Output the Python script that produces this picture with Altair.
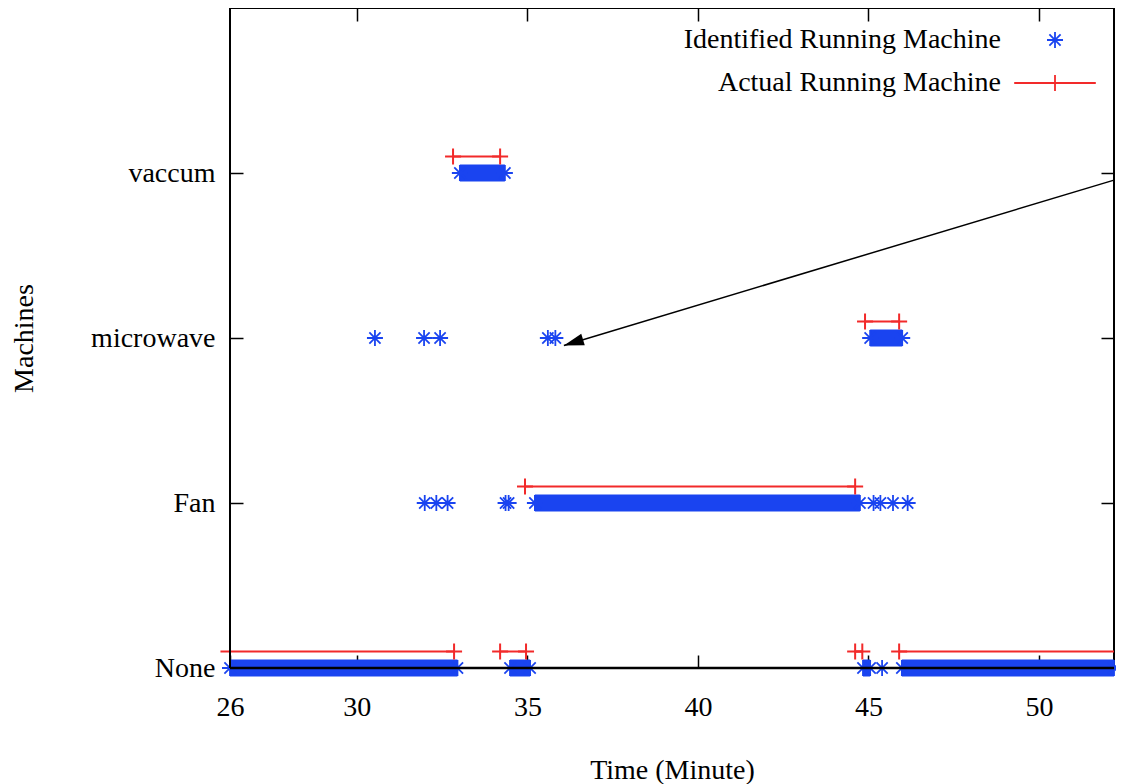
import altair as alt
import pandas as pd

# ---------------- data ----------------
LEVELS = ["None", "Fan", "microwave", "vaccum"]
SERIES = ["Identified Running Machine", "Actual Running Machine"]

# Identified (blue) isolated detections
ident_x = [45.40, 31.99, 32.33, 32.66, 34.36, 34.45, 45.15, 45.35, 45.72, 46.15,
           30.53, 31.97, 32.44, 35.60, 35.82]
ident_lvl = [0, 1, 1, 1, 1, 1, 1, 1, 1, 1, 2, 2, 2, 2, 2]

# Identified (blue) continuous runs of detections
run_lvl = [0, 0, 0, 0, 1, 2, 3]
run_start = [26.28, 34.49, 44.84, 45.98, 35.22, 45.05, 33.02]
run_end = [32.95, 35.08, 45.05, 52.20, 44.75, 45.99, 34.34]

# Actual (red) running intervals
act_lvl = [0, 0, 0, 0, 1, 2, 3]
act_start = [26.00, 34.20, 44.61, 45.90, 34.93, 44.90, 32.82]
act_end = [32.85, 34.96, 44.82, 52.20, 44.61, 45.90, 34.20]

# annotation arrow (start -> tip)
arrow_x, arrow_y = [52.20], [2.957]
arrow_x2, arrow_y2 = [36.07], [1.955]

X_DOMAIN = [26.28, 52.20]
X_TICKS = [26.28, 30, 35, 40, 45, 50]
Y_TICKS = [0, 1, 2, 3]

# ---------------- styles ----------------
BLUE = "#1a44f0"
RED = "#f22a2a"
FONT = "Liberation Serif"
FS = 28
AST = "M-1,0L1,0M0,-1L0,1M-0.7,-0.7L0.7,0.7M-0.7,0.7L0.7,-0.7"
PLUS = "M-1,0L1,0M0,-1L0,1"
# legend key glyphs, drawn to the right of the (right-aligned) legend text
AST_KEY = "M7.5,0L9.5,0M8.5,-1L8.5,1M7.8,-0.7L9.2,0.7M7.8,0.7L9.2,-0.7"
RED_KEY = "M3.4,0L13.6,0M8.5,-1L8.5,1"
ARROW = "M0,0L-1,-0.3L-1,0.3Z"

# ---------------- tables ----------------
runs = pd.DataFrame({"lvl": run_lvl, "start": run_start, "end": run_end})
acts = pd.DataFrame({"lvl": act_lvl, "start": act_start, "end": act_end})

blue_pts = [(x, l) for x, l in zip(ident_x, ident_lvl)]
for l, s, e in zip(run_lvl, run_start, run_end):
    blue_pts += [(s, l), (e, l)]
blue = pd.DataFrame(blue_pts, columns=["t", "lvl"])

red_pts = []
for l, s, e in zip(act_lvl, act_start, act_end):
    for v in (s, e):
        if X_DOMAIN[0] < v < X_DOMAIN[1]:
            red_pts.append((v, l))
red = pd.DataFrame(red_pts, columns=["t", "lvl"])

legend_df = pd.DataFrame({"series": SERIES, "t": [0, 0], "lvl": [0, 0]})
arrow = pd.DataFrame({"x": arrow_x, "y": arrow_y, "x2": arrow_x2, "y2": arrow_y2})
frame = pd.DataFrame({"x0": [X_DOMAIN[0]], "y0": [0]})

xs = alt.Scale(domain=X_DOMAIN, nice=False, zero=False)
ys = alt.Scale(domain=[0, 4], nice=False, zero=True)

level_expr = "['None','Fan','microwave','vaccum'][datum.value]"

bottom_axis = alt.Axis(orient="bottom", values=X_TICKS, labelExpr="format(datum.value, '.0f')",
                       tickSize=13, offset=-13, domain=False, grid=False, labelPadding=25,
                       labelFont=FONT, labelFontSize=FS, labelColor="black", tickColor="black",
                       tickWidth=1.5, labelFlush=False, labelOverlap=False,
                       title="Time (Minute)", titleFont=FONT, titleFontSize=FS,
                       titleFontWeight="normal", titleColor="black", titlePadding=35)
left_axis = alt.Axis(orient="left", values=Y_TICKS, labelExpr=level_expr,
                     tickSize=13, offset=-13, domain=False, grid=False, labelPadding=15,
                     labelFont=FONT, labelFontSize=FS, labelColor="black", tickColor="black",
                     tickWidth=1.5, title="Machines", titleFont=FONT, titleFontSize=FS,
                     titleFontWeight="normal", titleColor="black", titlePadding=52)
top_axis = alt.Axis(orient="top", values=X_TICKS[1:], tickSize=13, offset=-13, domain=False,
                    grid=False, labels=False, tickColor="black", tickWidth=1.5, title=None)
right_axis = alt.Axis(orient="right", values=Y_TICKS, tickSize=13, offset=-13, domain=False,
                      grid=False, labels=False, tickColor="black", tickWidth=1.5, title=None)

bands = alt.Chart(runs).mark_rule(color=BLUE, strokeWidth=17, strokeCap="butt").encode(
    x=alt.X("start:Q", scale=xs, axis=bottom_axis),
    x2="end:Q",
    y=alt.Y("lvl:Q", scale=ys, axis=left_axis),
)

blue_marks = alt.Chart(blue).mark_point(shape=AST, filled=False, size=256, strokeWidth=1.8,
                                        color=BLUE, opacity=1).encode(
    x=alt.X("t:Q", scale=xs, axis=None),
    y=alt.Y("lvl:Q", scale=ys, axis=None),
)

segs = alt.Chart(acts).transform_calculate(ya="datum.lvl + 0.1").mark_rule(
    color=RED, strokeWidth=2).encode(
    x=alt.X("start:Q", scale=xs, axis=None),
    x2="end:Q",
    y=alt.Y("ya:Q", scale=ys, axis=None),
)

red_marks = alt.Chart(red).transform_calculate(ya="datum.lvl + 0.1").mark_point(
    shape=PLUS, filled=False, size=256, strokeWidth=2, color=RED, opacity=1).encode(
    x=alt.X("t:Q", scale=xs, axis=None),
    y=alt.Y("ya:Q", scale=ys, axis=None),
)

leg = dict(orient="none", legendX=743, legendY=18, title=None, labelAlign="right",
           labelOffset=0, symbolOffset=0,
           labelFont=FONT, labelFontSize=FS, labelColor="black",
           labelLimit=600, symbolSize=256, symbolStrokeWidth=1.8, rowPadding=15, padding=0)

legend_layer = alt.Chart(legend_df).transform_filter("false").mark_point(
    filled=False, size=256, strokeWidth=1.8, opacity=1).encode(
    x=alt.X("t:Q", scale=xs, axis=None),
    y=alt.Y("lvl:Q", scale=ys, axis=None),
    color=alt.Color("series:N", scale=alt.Scale(domain=SERIES, range=[BLUE, RED]),
                    legend=alt.Legend(**leg)),
    shape=alt.Shape("series:N", scale=alt.Scale(domain=SERIES, range=[AST_KEY, RED_KEY]),
                    legend=alt.Legend(**leg)),
)

# frame lines drawn over the data (bottom and left border)
bottom_line = alt.Chart(frame).mark_rule(color="black", strokeWidth=2.5).encode(
    y=alt.Y("y0:Q", scale=ys, axis=None))
left_line = alt.Chart(frame).mark_rule(color="black", strokeWidth=2).encode(
    x=alt.X("x0:Q", scale=xs, axis=None))

arrow_line = alt.Chart(arrow).mark_rule(color="black", strokeWidth=1.5).encode(
    x=alt.X("x:Q", scale=xs, axis=top_axis),
    x2="x2:Q",
    y=alt.Y("y:Q", scale=ys, axis=right_axis),
    y2="y2:Q",
)
arrow_head = alt.Chart(arrow).mark_point(shape=ARROW, filled=True, color="black", size=1600,
                                         angle=163, opacity=1).encode(
    x=alt.X("x2:Q", scale=xs, axis=None),
    y=alt.Y("y2:Q", scale=ys, axis=None),
)

chart = alt.layer(bands, blue_marks, segs, red_marks, legend_layer, bottom_line, left_line,
                  arrow_line, arrow_head).properties(
    width=884, height=660,
    autosize=alt.AutoSizeParams(type="none"),
    padding={"left": 222, "top": 0, "right": 2, "bottom": 116},
    background="white",
).configure_view(stroke="black", strokeWidth=2)

chart.save("out.html", embed_options={"renderer": "svg", "actions": False})
